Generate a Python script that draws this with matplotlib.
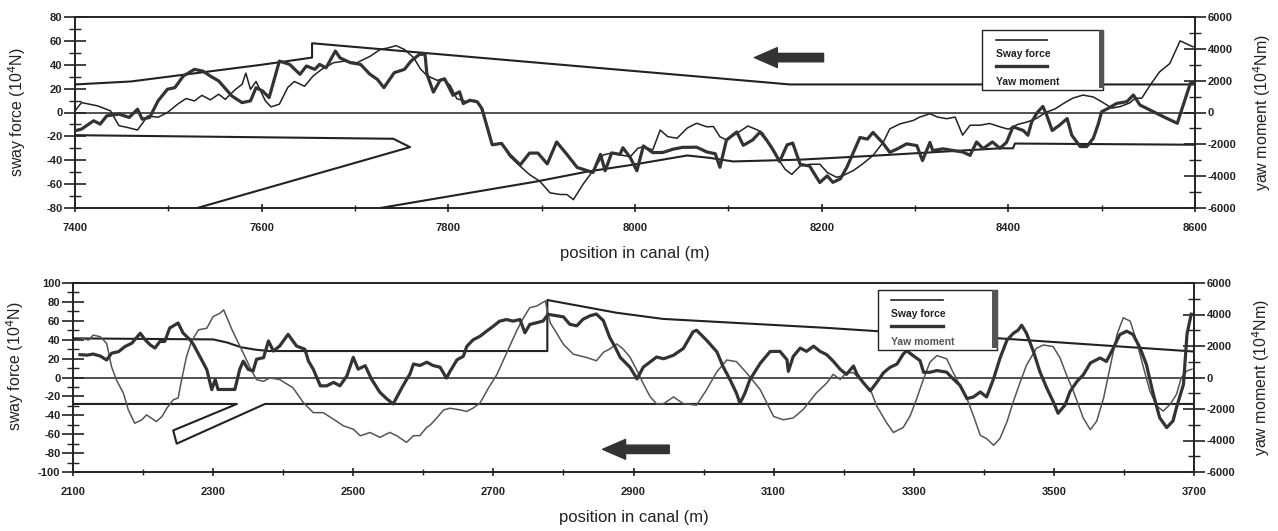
import matplotlib
matplotlib.use("Agg")
import matplotlib.pyplot as plt
from matplotlib.patches import Rectangle
from matplotlib.ticker import MultipleLocator

# ---------------- upper run (7400 - 8600 m) ----------------
top_sway_x = [7400, 7407, 7424, 7438, 7447, 7456, 7467, 7478, 7489, 7499, 7510, 7519, 7528, 7536,
              7545, 7554, 7561, 7572, 7579, 7583, 7588, 7594, 7604, 7610, 7619, 7628, 7635, 7646,
              7655, 7664, 7677, 7688, 7702, 7716, 7727, 7735, 7744, 7753, 7763, 7770, 7777, 7788,
              7794, 7802, 7809, 7820, 7829, 7834, 7841, 7847, 7857, 7866, 7877, 7887, 7898, 7909,
              7920, 7927, 7934, 7944, 7952, 7959, 7966, 7975, 7984, 7995, 8003, 8009, 8019, 8027,
              8035, 8045, 8056, 8066, 8077, 8084, 8091, 8098, 8109, 8121, 8131, 8137, 8148, 8155,
              8161, 8168, 8177, 8187, 8198, 8206, 8216, 8223, 8234, 8244, 8255, 8266, 8273, 8284,
              8298, 8305, 8316, 8324, 8334, 8343, 8351, 8359, 8370, 8380, 8391, 8400, 8410, 8420,
              8430, 8440, 8450, 8460, 8469, 8480, 8491, 8500, 8511, 8520, 8530, 8536, 8543, 8552,
              8562, 8573, 8584, 8598]
top_sway = [1.4, 8.3, 5.6, 1.4, -11, -12.5, -14.7, -2.8, -4, 0, 7, 11.7, 9.7, 14.4,
            10.6, 15.3, 11, 19.4, 23.6, 33, 19.4, 26, 9.7, 4.7, 7, 21, 26, 22,
            30.5, 36, 41.7, 43, 41.7, 47, 52.8, 54, 56, 52.8, 45.8, 36.6, 31, 26.9,
            28.3, 22.7, 11.6, 8.9, 10.2, 6, -10.6, -27.3, -25.8, -36.9, -45, -52, -57.6, -67.3,
            -68.7, -68.7, -73, -60.5, -52, -43.8, -35.5, -34, -35.5, -37, -30, -28.6, -31.4, -14.7,
            -20.2, -21.6, -13, -9, -12, -11.7, -20.3, -23, -17.5, -11.3, -14.6, -17.3, -32.5, -40.8,
            -47.7, -51.8, -44.8, -43.4, -43.3, -50.2, -54.3, -52.8, -48.6, -43, -36, -24.9, -13.7, -9.5,
            -6.7, -3.9, -1, -3.8, -5.2, -3.8, -19, -10.7, -10.6, -9.2, -12, -14, -10, -8,
            -5, 0, 3, 8, 12, 14.6, 13, 9, 3.7, 5, 8, 12, 12, 23,
            34, 41, 60, 55]

top_yaw_x = [7400, 7407, 7420, 7427, 7434, 7447, 7458, 7467, 7472, 7480, 7489, 7499, 7507, 7516,
             7528, 7537, 7545, 7554, 7568, 7579, 7588, 7594, 7601, 7608, 7619, 7630, 7641, 7648,
             7657, 7662, 7669, 7679, 7684, 7695, 7706, 7716, 7724, 7731, 7742, 7753, 7760, 7769,
             7775, 7777, 7784, 7791, 7796, 7805, 7812, 7816, 7823, 7831, 7836, 7841, 7847, 7857,
             7866, 7877, 7887, 7896, 7906, 7916, 7927, 7938, 7949, 7955, 7963, 7968, 7975, 7984,
             7987, 7995, 8002, 8009, 8019, 8030, 8041, 8051, 8066, 8077, 8086, 8091, 8098, 8109,
             8116, 8126, 8134, 8141, 8148, 8155, 8163, 8169, 8177, 8187, 8198, 8206, 8212, 8220,
             8227, 8234, 8241, 8249, 8255, 8265, 8273, 8281, 8291, 8302, 8308, 8316, 8319, 8330,
             8341, 8351, 8359, 8366, 8373, 8383, 8391, 8398, 8405, 8416, 8421, 8425, 8431, 8437,
             8441, 8447, 8455, 8463, 8468, 8477, 8484, 8491, 8496, 8500, 8507, 8516, 8527, 8534,
             8541, 8566, 8581, 8595, 8600]
top_yaw = [-1150, -1040, -520, -730, -210, -100, -310, 210, -420, -310, 730, 1460, 1560, 2290,
           2710, 2600, 2290, 1980, 1040, 620, 730, 1560, 1350, 940, 3230, 3020, 2400, 2920,
           2710, 3020, 2810, 3860, 3430, 3130, 3020, 2400, 2080, 1560, 2500, 2710, 3230, 3650,
           3670, 2430, 1280, 2010, 2120, 1080, 1300, 560, 770, 670, 250, -790, -2030, -1940,
           -2670, -3290, -2550, -2550, -3230, -1850, -2630, -3450, -3660, -3770, -2630, -3660, -2540, -2630,
           -2210, -2840, -3660, -2100, -2520, -2510, -2300, -2190, -2180, -2480, -2590, -3440, -1730, -1220,
           -2060, -1730, -1220, -1730, -2350, -3080, -2030, -1920, -3260, -3360, -4400, -3980, -4390, -4170,
           -3440, -2510, -1570, -1670, -1250, -1880, -2500, -2290, -1970, -2080, -3020, -1880, -2390, -2280,
           -2390, -2480, -2690, -1850, -2270, -1850, -2250, -1880, -900, -1130, -1430, -600, 0, 380,
           -150, -1130, -790, -380, -1430, -2140, -2140, -1620, -790, 50, 260, 570, 680, 1100,
           470, -260, -680, 1830, 1880]

top_bank_up_x = [7400, 7460, 7530, 7600, 7654, 7654, 8166, 8600]
top_bank_up = [23.5, 26, 33, 40, 46, 58, 23.5, 23.5]
top_jetty_x = [7400, 7741, 7759, 7531]
top_jetty = [-19, -22, -29, -80]
top_bank_lo_x = [7727, 7893, 7949, 7998, 8056, 8080, 8105, 8177, 8249, 8391, 8405, 8407, 8600]
top_bank_lo = [-80, -58, -49.5, -43.7, -36, -38, -41, -39.5, -36.5, -30, -30, -26, -27]
top_ticks = [7400, 7600, 7800, 8000, 8200, 8400, 8600]

# ---------------- lower run (2100 - 3700 m) ----------------
bot_sway_x = [2110, 2122, 2129, 2139, 2148, 2155, 2162, 2172, 2179, 2188, 2198, 2205, 2212, 2219,
              2227, 2234, 2243, 2250, 2255, 2262, 2269, 2279, 2291, 2300, 2310, 2315, 2319, 2327,
              2336, 2343, 2353, 2362, 2372, 2381, 2395, 2414, 2429, 2443, 2457, 2472, 2486, 2500,
              2510, 2524, 2538, 2552, 2562, 2576, 2586, 2595, 2605, 2610, 2619, 2629, 2638, 2652,
              2662, 2671, 2681, 2693, 2705, 2719, 2733, 2743, 2752, 2762, 2774, 2781, 2800, 2814,
              2833, 2847, 2857, 2866, 2876, 2885, 2895, 2905, 2914, 2924, 2933, 2943, 2957, 2971,
              2990, 3004, 3019, 3033, 3047, 3062, 3081, 3100, 3114, 3128, 3142, 3161, 3176, 3185,
              3195, 3204, 3214, 3223, 3238, 3247, 3261, 3271, 3285, 3295, 3304, 3314, 3323, 3333,
              3347, 3356, 3366, 3376, 3385, 3395, 3404, 3414, 3423, 3433, 3442, 3452, 3461, 3475,
              3485, 3499, 3509, 3518, 3528, 3542, 3552, 3561, 3571, 3580, 3590, 3599, 3609, 3618,
              3628, 3637, 3647, 3656, 3666, 3675, 3682, 3690, 3697]
bot_sway = [42, 39.6, 44.9, 43.1, 36.1, 11.4, -2.6, -16.7, -34.3, -48.4, -44.9, -39.6, -43.1, -46.6,
            -41.3, -32.4, -23.6, -21.8, -2.5, 22.1, 38, 50.4, 52.2, 64.5, 68.1, 71.6, 64.5, 50.5,
            36.5, 25.9, 10.1, -2.3, -4, -0.5, -2.2, -10.9, -26.7, -37.2, -37.2, -44.2, -51.2, -54.7,
            -61.7, -58.2, -63.4, -58.1, -61.6, -68.6, -61.6, -61.5, -52.7, -50.2, -43, -34.3, -32.5, -34.2,
            -35.9, -32.4, -27, -11.1, 3.1, 26, 49.1, 63.2, 73.9, 75.7, 81, 58.1, 35.1, 24.7,
            21.2, 17.7, 26.6, 30.2, 35.5, 30.3, 21.5, 7.4, -6.6, -20.7, -27.8, -27.7, -20.6, -27.6,
            -29.3, -13.3, 6, 18.5, 16.8, 4.4, -13, -41.3, -44.7, -42.8, -34, -16.3, -5.7, 3.3,
            -2, 5, 5.1, -1.9, -12.4, -30, -47.6, -58.2, -52.8, -40.4, -22.8, -1.5, 16.1, 23.2,
            19.8, 5.6, -8.4, -22.4, -40.1, -61.2, -64.7, -71.7, -64.6, -47, -25.8, -4.6, 13.1, 30.9,
            34.4, 32.7, 20.4, 2.8, -14.8, -43, -55.2, -46.4, -21.7, 10.1, 45.4, 63.2, 59.6, 38.4,
            10.3, -14.4, -30.3, -35.5, -28.4, -17.8, 0, 7, 8.8]

bot_yaw_x = [2110, 2120, 2129, 2139, 2148, 2155, 2165, 2174, 2184, 2196, 2203, 2210, 2217, 2224,
             2231, 2238, 2250, 2257, 2267, 2272, 2281, 2291, 2298, 2303, 2307, 2319, 2331, 2338,
             2343, 2350, 2357, 2362, 2372, 2379, 2386, 2395, 2407, 2419, 2431, 2436, 2443, 2453,
             2462, 2472, 2481, 2491, 2500, 2507, 2517, 2526, 2538, 2548, 2557, 2571, 2581, 2586,
             2595, 2605, 2614, 2624, 2633, 2638, 2648, 2657, 2662, 2671, 2681, 2690, 2700, 2709,
             2719, 2728, 2738, 2745, 2752, 2762, 2771, 2778, 2800, 2809, 2819, 2828, 2838, 2847,
             2857, 2866, 2874, 2881, 2895, 2905, 2914, 2933, 2943, 2957, 2971, 2985, 2990, 3004,
             3019, 3028, 3038, 3047, 3052, 3059, 3066, 3081, 3095, 3109, 3119, 3121, 3128, 3138,
             3147, 3157, 3166, 3176, 3185, 3195, 3204, 3214, 3219, 3228, 3238, 3247, 3257, 3266,
             3276, 3285, 3290, 3299, 3309, 3314, 3323, 3333, 3347, 3356, 3366, 3376, 3385, 3395,
             3404, 3414, 3423, 3433, 3442, 3449, 3454, 3461, 3471, 3480, 3490, 3499, 3506, 3516,
             3523, 3533, 3542, 3552, 3566, 3575, 3585, 3594, 3604, 3613, 3623, 3632, 3642, 3651,
             3661, 3670, 3675, 3685, 3690, 3696]
bot_yaw = [1450, 1420, 1490, 1360, 1110, 1540, 1640, 1960, 2180, 2810, 2390, 2080, 1870, 2290,
           2290, 3140, 3460, 2830, 2400, 2090, 1340, 500, -770, -130, -760, -760, -760, 520,
           1040, 520, 410, 1160, 1260, 2320, 1680, 2000, 2740, 2000, 1790, 1050, 520, -530,
           -530, -310, -530, 110, 1280, 530, 750, -100, -940, -1360, -1680, -520, 230, 860,
           760, 970, 760, 650, -40, 380, 1120, 1340, 1970, 2390, 2620, 2930, 3260, 3580,
           3680, 3580, 3680, 2840, 3370, 3480, 3590, 4010, 3850, 3380, 3280, 3700, 3920, 4030,
           3610, 2550, 1920, 1280, 650, -90, 660, 1300, 1190, 1410, 1840, 2900, 3000, 2380,
           1630, 680, -160, -1000, -1640, -1000, -150, 910, 1650, 1660, 1130, 390, 1340, 1870,
           1660, 1990, 1670, 1440, 1040, 520, 200, 730, 200, -330, -850, -320, 310, 640,
           850, 1490, 1700, 1390, 1070, 330, 330, 440, 340, -80, -500, -1340, -1240, -920,
           -1240, -70, 1210, 2370, 2800, 3010, 3320, 2800, 1630, 370, -680, -1530, -2270, -1740,
           -890, -250, 170, 920, 1240, 1020, 1880, 2720, 2940, 2730, 1880, 830, -1070, -2550,
           -3180, -2760, -1910, -430, 2750, 4020]

bot_bank_up_x = [2100, 2300, 2320, 2340, 2360, 2380, 2777, 2777, 2876, 2942, 3176, 3242, 3425, 3700]
bot_bank_up = [41.4, 40.3, 37, 32, 29.5, 28, 28, 82, 68.5, 62, 52.5, 49.3, 41.3, 27.5]
bot_bank_lo_x = [2100, 2334, 2243, 2248, 2374, 3700]
bot_bank_lo = [-28, -28, -56, -70, -28, -28]
bot_ticks = [2100, 2300, 2500, 2700, 2900, 3100, 3300, 3500, 3700]

INK = "#222222"
plt.rcParams["font.family"] = ["Liberation Sans", "DejaVu Sans"]
plt.rcParams["axes.unicode_minus"] = False

fig = plt.figure(figsize=(12.78, 5.31), dpi=100)


def px_box(left, top, right, bottom):
    W, H = 1278.0, 531.0
    return [left / W, 1 - bottom / H, (right - left) / W, (bottom - top) / H]


def style_axes(ax, ax2, xticks, ymaj, ymin):
    for a in (ax, ax2):
        for s in a.spines.values():
            s.set_color(INK)
            s.set_linewidth(1.2)
    ax.set_xticks(xticks)
    ax.set_xticks([t + 100 for t in xticks[:-1]], minor=True)
    ax.yaxis.set_major_locator(MultipleLocator(ymaj))
    ax.yaxis.set_minor_locator(MultipleLocator(ymin))
    ax2.yaxis.set_major_locator(MultipleLocator(2000))
    ax2.yaxis.set_minor_locator(MultipleLocator(1000))
    ax.tick_params(axis="x", which="major", direction="inout", length=6, width=1.2,
                   pad=8, colors=INK, labelsize=8)
    ax.tick_params(axis="x", which="minor", direction="inout", length=4, width=1.0, colors=INK)
    ax.tick_params(axis="y", which="major", direction="inout", length=16, width=1.2,
                   pad=1, colors=INK, labelsize=8)
    ax.tick_params(axis="y", which="minor", direction="inout", length=9, width=1.0, colors=INK)
    ax2.tick_params(axis="y", which="major", direction="inout", length=16, width=1.2,
                    pad=1, colors=INK, labelsize=8)
    ax2.tick_params(axis="y", which="minor", direction="inout", length=9, width=1.0, colors=INK)
    for lab in ax.get_xticklabels() + ax.get_yticklabels() + ax2.get_yticklabels():
        lab.set_fontweight("bold")
    ax.axhline(0, color=INK, lw=1.1, zorder=1)


def draw_legend(ax2, x0, y0, x1, y1, grey_yaw):
    tr = ax2.transAxes
    ax2.add_patch(Rectangle((x0, y0), x1 - x0, y1 - y0, transform=tr, facecolor="white",
                            edgecolor=INK, lw=1.0, zorder=10, clip_on=False))
    ax2.add_patch(Rectangle((x1 - 0.004, y0 + 0.01), 0.005, y1 - y0 - 0.01, transform=tr,
                            facecolor="#555555", edgecolor="none", zorder=11, clip_on=False))
    h = y1 - y0
    lx0, lx1 = x0 + 0.012, x0 + 0.058
    ax2.plot([lx0, lx1], [y1 - 0.17 * h] * 2, transform=tr, color=INK, lw=1.2, zorder=12)
    ax2.text(lx0, y1 - 0.40 * h, "Sway force", transform=tr, fontsize=7.5, fontweight="bold",
             color=INK, va="center", ha="left", zorder=12)
    ax2.plot([lx0, lx1], [y1 - 0.60 * h] * 2, transform=tr, color="#333333", lw=2.4, zorder=12)
    ax2.text(lx0, y1 - 0.87 * h, "Yaw moment", transform=tr, fontsize=7.5,
             fontweight="bold", color=grey_yaw, va="center", ha="left", zorder=12)


# ---------------- top panel ----------------
ax = fig.add_axes(px_box(75, 17, 1195, 208))
ax2 = ax.twinx()
ax.plot(top_bank_up_x, top_bank_up, color=INK, lw=1.5, zorder=2)
ax.plot(top_jetty_x, top_jetty, color=INK, lw=1.5, zorder=2)
ax.plot(top_bank_lo_x, top_bank_lo, color=INK, lw=1.5, zorder=2)
ax.plot(top_sway_x, top_sway, color=INK, lw=1.1, zorder=3)
ax2.plot(top_yaw_x, top_yaw, color="#333333", lw=2.3, zorder=3)
ax.set_xlim(7400, 8600)
ax.set_ylim(-80, 80)
ax2.set_ylim(-6000, 6000)
style_axes(ax, ax2, top_ticks, 20, 10)
ax.set_ylabel("sway force (10$^4$N)", fontsize=11.5, color=INK)
ax.yaxis.set_label_coords(-0.042, 0.5)
ax2.set_ylabel("yaw moment (10$^4$Nm)", fontsize=11.5, color=INK, rotation=90)
ax2.yaxis.set_label_coords(1.05, 0.5)
ax.set_xlabel("position in canal (m)", fontsize=12, color=INK)
ax.xaxis.set_label_coords(0.5, -0.2)
ax.annotate("", xy=(8125, 46), xytext=(8205, 46),
            arrowprops=dict(arrowstyle="simple,head_width=1.3,head_length=1.5,tail_width=0.55",
                            color="#333333", mutation_scale=11))
draw_legend(ax2, 0.81, 0.618, 0.918, 0.932, INK)

# ---------------- bottom panel ----------------
bx = fig.add_axes(px_box(73, 283, 1194, 472))
bx2 = bx.twinx()
bx.plot(bot_bank_up_x, bot_bank_up, color=INK, lw=1.5, zorder=2)
bx.plot(bot_bank_lo_x, bot_bank_lo, color=INK, lw=1.5, zorder=2)
bx.plot(bot_sway_x, bot_sway, color="#555555", lw=1.1, zorder=3)
bx2.plot(bot_yaw_x, bot_yaw, color="#333333", lw=2.3, zorder=3)
bx.set_xlim(2100, 3700)
bx.set_ylim(-100, 100)
bx2.set_ylim(-6000, 6000)
style_axes(bx, bx2, bot_ticks, 20, 10)
bx.set_ylabel("sway force (10$^4$N)", fontsize=11.5, color=INK)
bx.yaxis.set_label_coords(-0.042, 0.56)
bx2.set_ylabel("yaw moment (10$^4$Nm)", fontsize=11.5, color=INK, rotation=90)
bx2.yaxis.set_label_coords(1.05, 0.5)
bx.set_xlabel("position in canal (m)", fontsize=12, color=INK)
bx.xaxis.set_label_coords(0.5, -0.2)
bx.annotate("", xy=(2852, -76), xytext=(2955, -76),
            arrowprops=dict(arrowstyle="simple,head_width=1.3,head_length=1.5,tail_width=0.55",
                            color="#333333", mutation_scale=11))
draw_legend(bx2, 0.718, 0.646, 0.824, 0.963, "#555555")

fig.savefig("out.png", dpi=100)
